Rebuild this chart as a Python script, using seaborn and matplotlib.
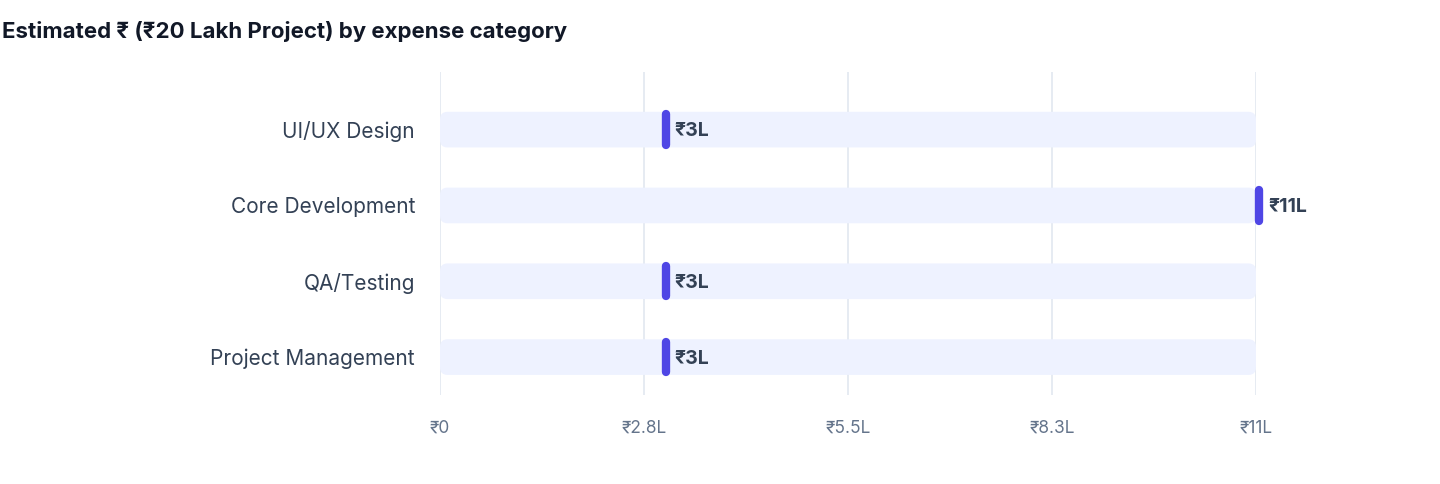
import matplotlib
matplotlib.use("Agg")
import matplotlib.pyplot as plt
import seaborn as sns
import pandas as pd
from matplotlib.patches import FancyBboxPatch

categories = ["UI/UX Design", "Core Development", "QA/Testing", "Project Management"]
values = [3, 11, 3, 3]
value_labels = ["₹3L", "₹11L", "₹3L", "₹3L"]
track_max = 11
tick_values = [0, 2.75, 5.5, 8.25, 11]
tick_labels = ["₹0", "₹2.8L", "₹5.5L", "₹8.3L", "₹11L"]

sns.set_style("white")
plt.rcParams['font.family'] = ['Inter', 'DejaVu Sans']

df = pd.DataFrame({"cat": categories, "val": values, "track": [track_max]*len(categories)})

fig = plt.figure(figsize=(14.4, 4.84), dpi=100)
ax = fig.add_axes([440/1440, 1-395/484, 816/1440, 323/484])

sns.barplot(data=df, x="track", y="cat", color="#EEF2FF", width=0.47, ax=ax, saturation=1, zorder=2)
for p in list(ax.patches):
    x, y, w, h = p.get_x(), p.get_y(), p.get_width(), p.get_height()
    p.remove()
    ax.add_patch(FancyBboxPatch((x, y), w, h, boxstyle="round,pad=0,rounding_size=0.1",
                                fc="#EEF2FF", ec="none", zorder=2, mutation_aspect=1.0))

ax.vlines([v + 0.04 for v in df["val"]], [i - 0.2 for i in range(len(categories))],
          [i + 0.2 for i in range(len(categories))],
          colors="#4F46E5", linewidth=6, capstyle="round", zorder=4, clip_on=False)
for i, (v, lab) in enumerate(zip(values, value_labels)):
    ax.text(v + 0.16, i + 0.02, lab, va="center", ha="left", fontsize=14, fontweight="bold",
            color="#334155", zorder=5, clip_on=False)

ax.set_xlim(0, 11)
ax.set_ylim(3.5, -0.76)
ax.set_xticks(tick_values)
ax.set_xticklabels(tick_labels, color="#64748b", fontsize=12.5)
ax.tick_params(axis="x", length=0, pad=18)
ax.tick_params(axis="y", length=0, pad=18, labelsize=15, labelcolor="#334155")
ax.set_xlabel("")
ax.set_ylabel("")
ax.grid(axis="x", color="#E2E8F0", linewidth=1.2, zorder=0)
ax.set_axisbelow(True)
for s in ax.spines.values():
    s.set_visible(False)

fig.text(2/1440, 1-32/484, "Estimated ₹ (₹20 Lakh Project) by expense category",
         fontsize=16, fontweight="bold", color="#111827", va="center", ha="left")

fig.savefig("out.png", dpi=100)
